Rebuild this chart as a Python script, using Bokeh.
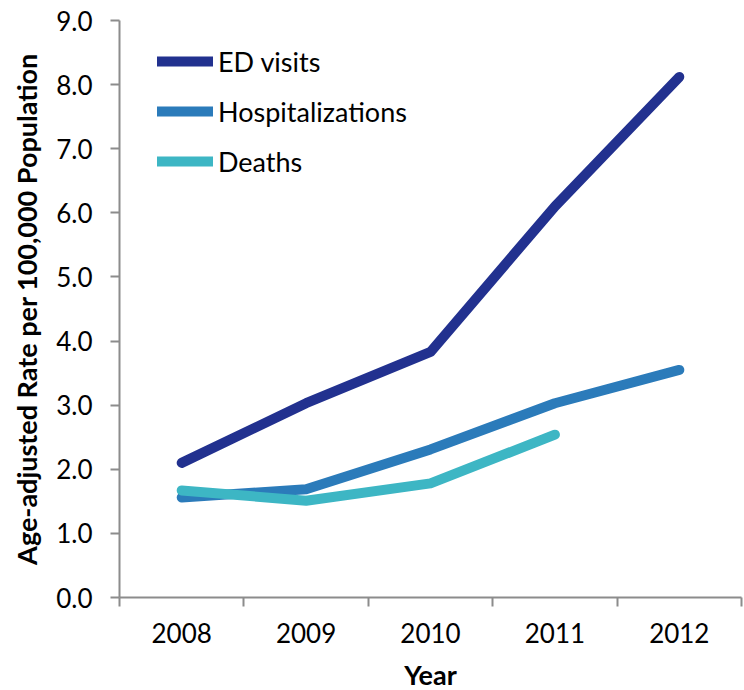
from bokeh.plotting import figure
from bokeh.models import FixedTicker, Legend, LegendItem, Range1d
from bokeh.embed import file_html
from bokeh.resources import INLINE

# Age-adjusted rates per 100,000 population, by year
years = ["2008", "2009", "2010", "2011", "2012"]
ed_visits = [2.10, 3.03, 3.83, 6.10, 8.12]
hospitalizations = [1.56, 1.69, 2.31, 3.03, 3.55]
deaths = [1.67, 1.51, 1.78, 2.54]

y_ticks = [0, 1, 2, 3, 4, 5, 6, 7, 8, 9]

FONT = "Lato"
AXIS_GRAY = "#8c8c8c"

x_pos = list(range(1, len(years) + 1))

p = figure(
    width=744, height=690,
    output_backend="svg", toolbar_location=None,
    x_range=Range1d(0.5, len(years) + 0.5),
    y_range=Range1d(0, 9),
    min_border_left=119, min_border_top=20,
    min_border_right=3, min_border_bottom=93,
)
p.frame_width = 622
p.frame_height = 577
p.outline_line_color = None
p.grid.visible = False
p.background_fill_color = "white"
p.border_fill_color = "white"

colors = ["#22318F", "#2B7BBA", "#3DB6C4"]
names = ["ED visits", "Hospitalizations", "Deaths"]
series = [ed_visits, hospitalizations, deaths]

renderers = []
for vals, c in zip(series, colors):
    r = p.line(x_pos[:len(vals)], vals, line_color=c, line_width=10,
               line_cap="round", line_join="round")
    renderers.append(r)

# x axis: labels at category centers, ticks at category boundaries
xa = p.xaxis[0]
xa.ticker = FixedTicker(ticks=x_pos,
                        minor_ticks=[i + 0.5 for i in range(0, len(years) + 1)])
xa.major_label_overrides = {i: y for i, y in zip(x_pos, years)}
xa.major_tick_out = 0
xa.major_tick_in = 0
xa.minor_tick_out = 9
xa.minor_tick_in = 0
xa.minor_tick_line_color = AXIS_GRAY
xa.minor_tick_line_width = 2
xa.axis_line_color = AXIS_GRAY
xa.axis_line_width = 2
xa.major_label_text_font = FONT
xa.major_label_text_font_size = "26px"
xa.major_label_text_color = "black"
xa.major_label_standoff = 16
xa.axis_label = "Year"
xa.axis_label_text_font = FONT
xa.axis_label_text_font_style = "bold"
xa.axis_label_text_font_size = "27px"
xa.axis_label_text_color = "black"
xa.axis_label_standoff = 12

ya = p.yaxis[0]
ya.ticker = FixedTicker(ticks=y_ticks, minor_ticks=[])
ya.major_label_overrides = {t: f"{t:.1f}" for t in y_ticks}
ya.major_tick_out = 9
ya.major_tick_in = 0
ya.major_tick_line_color = AXIS_GRAY
ya.major_tick_line_width = 2
ya.axis_line_color = AXIS_GRAY
ya.axis_line_width = 2
ya.major_label_text_font = FONT
ya.major_label_text_font_size = "26px"
ya.major_label_text_color = "black"
ya.major_label_standoff = 18
ya.axis_label = "Age-adjusted Rate per 100,000 Population"
ya.axis_label_text_font = FONT
ya.axis_label_text_font_style = "bold"
ya.axis_label_text_font_size = "27px"
ya.axis_label_text_color = "black"
ya.axis_label_standoff = 10

legend = Legend(
    items=[LegendItem(label=n, renderers=[r]) for n, r in zip(names, renderers)],
    location=(38, 419),
    glyph_width=56, glyph_height=34, label_height=34,
    label_standoff=5, spacing=16, padding=0, margin=0,
    label_text_font=FONT, label_text_font_size="27px", label_text_color="black",
    border_line_color=None, background_fill_alpha=0,
)
p.add_layout(legend)

open("out.html", "w").write(file_html(p, INLINE))
